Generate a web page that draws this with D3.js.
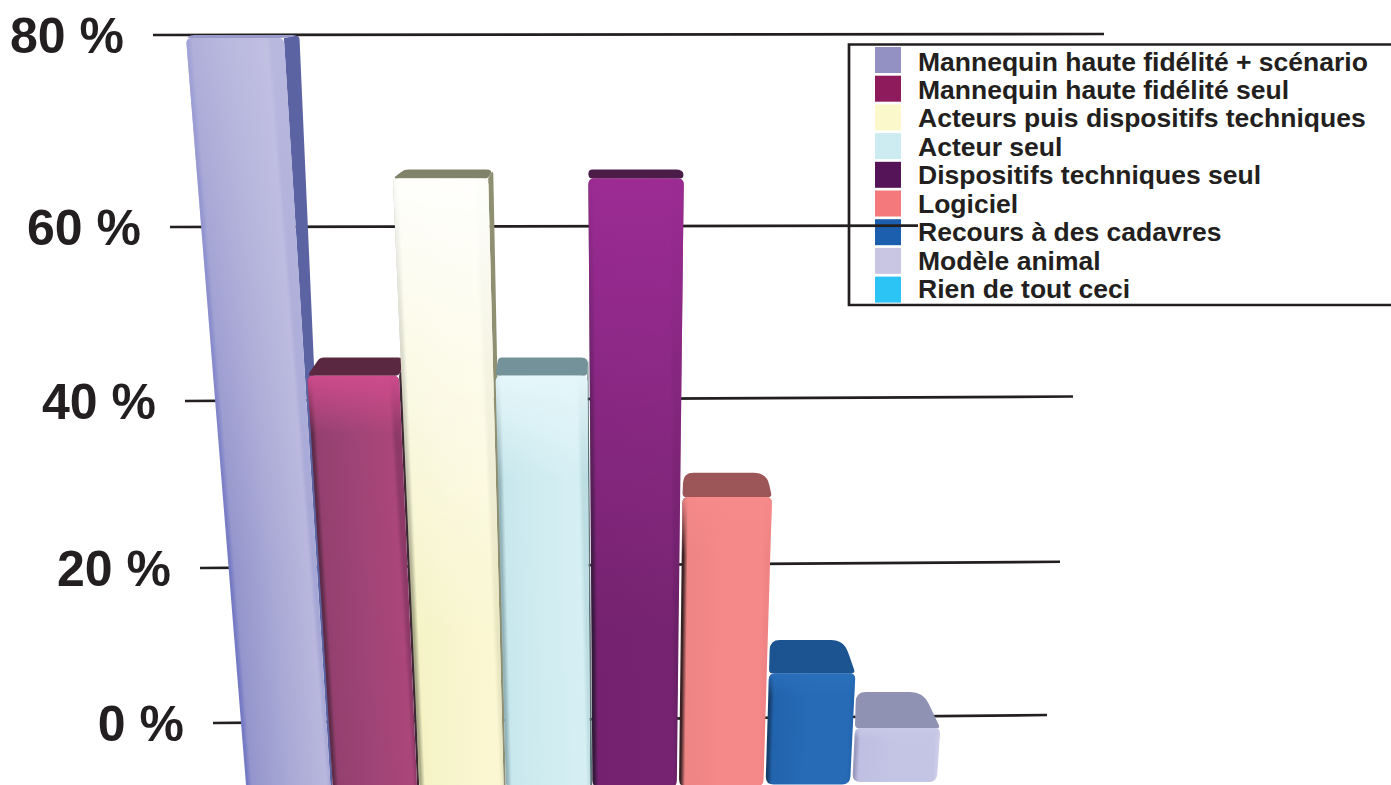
<!DOCTYPE html>
<html><head><meta charset="utf-8">
<script src="https://cdn.jsdelivr.net/npm/d3@7"></script>
<style>html,body{margin:0;padding:0;background:#fff}svg{display:block}text{font-family:"Liberation Sans",Arial,sans-serif;font-weight:bold;fill:#231f20}</style>
</head><body><svg id="c" width="1391" height="785"></svg>
<script>
const categories=["Mannequin haute fidélité + scénario","Mannequin haute fidélité seul","Acteurs puis dispositifs techniques","Acteur seul","Dispositifs techniques seul","Logiciel","Recours à des cadavres","Modèle animal","Rien de tout ceci"];
const values=[80,45,66,45,66,31.4,10.7,4,0];
const legendColors=["#9390c4","#8e1c5c","#fbf8cc","#cdecf1","#551458","#f3797c","#1b5fae","#c9c6e4","#2cc3f5"];
const tickValues=[80,60,40,20,0];
// front-face colours across the bar: edge, left, mid, right, right edge
const frontStops=[
 ["#757ac4","#9495cc","#a8a8d5","#b9b7dd","#a6a7d6"],
 ["#5e2c48","#94406f","#9f4476","#ab4679","#8e3a68"],
 ["#a9a985","#f5f3c6","#f8f5ce","#faf7d2","#e8e6c0"],
 ["#93b4ba","#c8e7ec","#d0ecf1","#d6eff4","#bcdde2"],
 ["#33193a","#74226f","#752370","#762471","#6a2066"],
 ["#3a2224","#ef8485","#f58888","#f58888","#f08484"],
 ["#173f6e","#2263ad","#276bb6","#276bb6","#2263ad"],
 ["#9a9ac0","#bfbfe1","#c4c4e5","#c4c4e5","#cfcfea"]];
const topTint=["#c8c6e6","#d04c8c","#ffffff","#e6f7fa","#9e2c96","#f68a8a","#2a6fbb","#c8c8e8"];
const tintStrength=[.55,.95,.95,.95,.95,.95,.95,.95];
const tintFade=[.7,.14,.75,.25,.75,.2,.2,.2];
const topFace=["#9a9acb","#5a2840","#80826a","#74929a","#4c1c48","#9c5658","#1b5490","#9092b4"];
const sideFace=["#5c63a2","#3d2a34","#8f9072","#5d7378","#33193a","#f08484","#1f5fa5","#c4c4e5"];
const highlight=["#dcdaf0","#e25c9c","#ffffff","#ffffff","#b0449e","#fb9a9a","#4a8ad0","#e0e0f4"];
const leftBevel=[.01,.04,.05,.02,0,0,0,0];

const svg=d3.select("#c"), defs=svg.append("defs");
const ink="#231f20";
const yScale=d3.scaleLinear().domain([0,20,40,60,80]).range([723,568,401,227,35]);
const gridLeft=d3.scaleLinear().domain([0,20,40,60,80]).range([213,200,185,170,153]);
const gridRight=d3.scaleLinear().domain([0,20,40,60]).range([1047,1060,1073,1086]);
const gridRise=d3.scaleLinear().domain([0,80]).range([8,1]);
const depth=d3.scaleLinear().domain([0,80]).range([38,3]);
const xBand=d3.scaleBand().domain(categories.slice(0,8)).range([246,246+86.6*8-2.2]).paddingInner(0.025).paddingOuter(0);
const base=d3.scaleLinear().domain([0,5,7]).range([792,787,782]);
const VPX=623,VPY=5480,REF=785;
const persp=d3.scaleLinear().domain([REF,VPY]).range([1,0]);
const project=(x,y)=>VPX+(x-VPX)*persp(y);

function rounded(pts,rs){
  const p=d3.path(),n=pts.length;
  const at=(a,b,r)=>{const d=Math.hypot(b[0]-a[0],b[1]-a[1]),t=Math.min(r/d,.5);return [a[0]+(b[0]-a[0])*t,a[1]+(b[1]-a[1])*t];};
  for(let i=0;i<n;i++){
    const c=pts[i],pr=pts[(i+n-1)%n],nx=pts[(i+1)%n],r=Array.isArray(rs)?rs[i]:rs;
    const s=at(c,pr,r),e=at(c,nx,r);
    if(i===0)p.moveTo(s[0],s[1]);else p.lineTo(s[0],s[1]);
    p.quadraticCurveTo(c[0],c[1],e[0],e[1]);
  }
  p.closePath();return p.toString();
}
defs.append("filter").attr("id","soft").attr("x","-10%").attr("y","-100%").attr("width","120%").attr("height","300%")
  .append("feGaussianBlur").attr("stdDeviation",1.4);

// legend swatches beneath the grid
const L={x:849,top:44.5,bottom:305,sx:875,sw:26,sh:26,tx:918,y0:47,pitch:28.7,ty0:70.5,tp:28.45};
svg.append("g").selectAll("rect").data(categories).join("rect")
  .attr("x",L.sx).attr("y",(d,i)=>L.y0+i*L.pitch).attr("width",L.sw).attr("height",L.sh)
  .attr("fill",(d,i)=>legendColors[i]);

// grid
const grid=svg.append("g").attr("stroke",ink).attr("stroke-width",2.7);
grid.selectAll("line").data(tickValues).join("line")
  .attr("x1",gridLeft).attr("y1",yScale)
  .attr("x2",d=>d===80?1104:d===60?918:gridRight(d))
  .attr("y2",d=>yScale(d)-gridRise(d)*(d===60?.5:1));
svg.append("g").selectAll("text").data(tickValues).join("text")
  .attr("x",d=>gridLeft(d)-29).attr("y",d=>yScale(d)+18)
  .attr("text-anchor","end").attr("font-size",50).text(d=>d+" %");

// bars
const bars=svg.append("g");
categories.slice(0,8).forEach((c,i)=>{
  const v=values[i],g=bars.append("g");
  const yBack=yScale(v),d=depth(v),yFront=yBack+d,yBase=base(i);
  const xl=xBand(c),xr=xl+xBand.bandwidth();
  const FL=[project(xl,yFront),yFront],FR=[project(xr,yFront),yFront];
  const BL=[project(xl,yBase),yBase],BR=[project(xr,yBase),yBase];
  const k=d*0.0015;
  const outer=(x,y)=>x+(VPX-x)*.048*(REF-y)/REF;
  let backRight=FR[0]+(VPX-FR[0])*k;
  if(xr<VPX) backRight=Math.max(backRight,outer(FR[0],yFront));
  const backLeft=xl<VPX?FL[0]+(VPX-FL[0])*leftBevel[i]:FL[0]+1;
  const TL=[backLeft,yBack],TR=[backRight,yBack];
  if(xr<VPX){
    g.append("path").attr("fill",sideFace[i]).attr("d",rounded([FR,TR,[BR[0]+2,yBase],BR],[0,5,0,0]));
  }
  const r=d>20?10:4;
  g.append("path").attr("fill",topFace[i]).attr("d",rounded([TL,TR,FR,FL],[r,r+3,4,4]));
  const ex=BL[0]-FL[0],ey=BL[1]-FL[1],len=Math.hypot(ex,ey),nx=ey/len,ny=-ex/len,w=xr-xl;
  const gid="f"+i,mx=(FL[0]+BL[0])/2,my=(FL[1]+BL[1])/2;
  const lg=defs.append("linearGradient").attr("id",gid).attr("gradientUnits","userSpaceOnUse")
    .attr("x1",mx).attr("y1",my).attr("x2",mx+nx*w).attr("y2",my+ny*w);
  [[0,0],[.02,0],[.07,1],[.5,2],[.95,3],[1,4]].forEach(([o,j])=>lg.append("stop").attr("offset",o).attr("stop-color",frontStops[i][j]));
  const tid="t"+i;
  const tg=defs.append("linearGradient").attr("id",tid).attr("x1",0).attr("x2",0).attr("y1",0).attr("y2",1);
  tg.append("stop").attr("offset",0).attr("stop-color",topTint[i]).attr("stop-opacity",tintStrength[i]);
  tg.append("stop").attr("offset",tintFade[i]).attr("stop-color",topTint[i]).attr("stop-opacity",0);
  const face=rounded([FL,FR,BR,BL],[6,6,8,8]);
  g.append("path").attr("d",face).attr("fill",`url(#${gid})`);
  g.append("path").attr("d",face).attr("fill",`url(#${tid})`);
  g.append("line").attr("x1",FL[0]+6).attr("x2",FR[0]-6).attr("y1",yFront+2).attr("y2",yFront+2)
    .attr("stroke",highlight[i]).attr("stroke-width",2.5).attr("filter","url(#soft)");
});

// legend frame and labels
svg.append("path").attr("fill","none").attr("stroke",ink).attr("stroke-width",2.7)
  .attr("d",d3.line()([[1391,L.top],[L.x,L.top],[L.x,L.bottom],[1391,L.bottom]]));
svg.append("g").selectAll("text").data(categories).join("text")
  .attr("x",L.tx).attr("y",(d,i)=>L.ty0+i*L.tp)
  .attr("font-size",26.5).text(d=>d);
</script></body></html>
